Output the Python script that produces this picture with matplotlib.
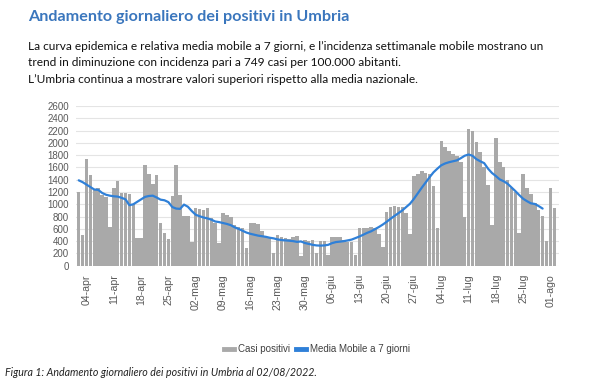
import numpy as np
import pandas as pd
import matplotlib
matplotlib.use("Agg")
import matplotlib.pyplot as plt
from matplotlib.lines import Line2D

# daily positive cases, Umbria, 02-apr-2022 .. 02-ago-2022
casi = [
    1200, 500, 1740, 1470, 1240, 1265, 1150, 1120, 625, 1260,
    1385, 1180, 1180, 1170, 1000, 446, 446, 1640, 1487, 1330,
    1477, 700, 527, 430, 1134, 1640, 1150, 810, 810, 380,
    945, 920, 910, 934, 780, 700, 364, 863, 825, 800,
    662, 635, 620, 293, 700, 690, 673, 560, 472, 445,
    212, 500, 470, 456, 430, 470, 489, 163, 418, 410,
    420, 200, 400, 400, 180, 470, 470, 472, 420, 390,
    390, 175, 608, 610, 620, 635, 610, 520, 310, 869,
    961, 977, 950, 950, 850, 510, 1460, 1500, 1548, 1515,
    1490, 1300, 619, 2030, 1938, 1868, 1813, 1790, 1694, 798,
    2220, 2200, 2020, 1857, 1600, 1314, 662, 2074, 1694, 1613,
    1395, 1260, 1205, 527, 1493, 1270, 1162, 1015, 900, 815,
    407, 1260, 945,
]

# 7-day moving average as drawn (stops three days before the last bar)
media_mobile = [
    1390, 1360, 1320, 1280, 1240, 1235, 1185, 1155, 1140, 1130,
    1125, 1105, 1080, 985, 1000, 1040, 1080, 1120, 1135, 1140,
    1110, 1075, 1065, 1035, 955, 930, 925, 995, 960, 890,
    830, 805, 785, 770, 750, 720, 710, 695, 680, 660,
    625, 600, 570, 540, 520, 505, 490, 480, 470, 455,
    445, 428, 418, 412, 407, 400, 388, 395, 370, 355,
    340, 330, 327, 330, 340, 368, 385, 392, 400, 412,
    425, 450, 475, 505, 535, 560, 595, 630, 670, 715,
    765, 810, 855, 900, 955, 1010, 1090, 1180, 1270, 1355,
    1440, 1520, 1580, 1635, 1665, 1685, 1700, 1715, 1750, 1790,
    1810, 1790, 1735, 1700, 1670, 1580, 1510, 1460, 1405, 1375,
    1335, 1275, 1215, 1150, 1090, 1050, 1015, 1005, 970, 930,
]

tick_labels = ["04-apr", "11-apr", "18-apr", "25-apr", "02-mag", "09-mag",
               "16-mag", "23-mag", "30-mag", "06-giu", "13-giu", "20-giu",
               "27-giu", "04-lug", "11-lug", "18-lug", "25-lug", "01-ago"]

giorni = pd.date_range("2022-04-02", periods=len(casi), freq="D")
tick_pos = [giorni.get_loc(pd.Timestamp("2022-04-04") + pd.Timedelta(days=7 * k))
            for k in range(len(tick_labels))]

BAR = "#a9a9a9"
BLUE = "#2f80d8"
GREY_TXT = "#595959"

fig = plt.figure(figsize=(6, 3.88), dpi=100)
ax = fig.add_axes([76 / 600, 1 - 265.7 / 388, (559 - 76) / 600, (265.7 - 106) / 388])

x = np.arange(len(casi))
ax.bar(x, casi, width=0.9, color=BAR, zorder=2)
ax.plot(np.arange(len(media_mobile)), media_mobile, color=BLUE, lw=1.6,
        solid_capstyle="round", zorder=3)

ax.set_xlim(-0.7, 123.2)
ax.set_ylim(0, 2600)
ax.set_yticks(range(0, 2601, 200))
ax.grid(axis="y", color="#e4e4e4", lw=0.8, zorder=0)
ax.set_axisbelow(True)
for s in ax.spines.values():
    s.set_visible(False)
ax.tick_params(axis="y", length=0, labelsize=7, labelcolor=GREY_TXT, pad=5)
ax.tick_params(axis="x", length=0, labelsize=7.6, labelcolor=GREY_TXT, pad=6)
ax.set_xticks(tick_pos)
ax.set_xticklabels(tick_labels, rotation=90, fontfamily="Liberation Sans")
for t in ax.get_yticklabels():
    t.set_fontfamily("Liberation Sans")

handles = [Line2D([], [], color=BAR, lw=3.5), Line2D([], [], color=BLUE, lw=3.5)]
fig.legend(handles, ["Casi positivi", "Media Mobile a 7 giorni"],
           loc="center", bbox_to_anchor=(317 / 600, 1 - 349 / 388), ncol=2,
           frameon=False, handlelength=1.0, handletextpad=0.45, columnspacing=0.6,
           prop={"family": "Liberation Sans", "size": 7}, labelcolor="#404040")

fig.text(28 / 600, 1 - 17 / 388, "Andamento giornaliero dei positivi in Umbria",
         color="#3a76bd", fontsize=11.6, fontweight="bold", family="Lato", va="center")
body = [
    "La curva epidemica e relativa media mobile a 7 giorni, e l\u2019incidenza settimanale mobile mostrano un",
    "trend in diminuzione con incidenza pari a 749 casi per 100.000 abitanti.",
    "L\u2019Umbria continua a mostrare valori superiori rispetto alla media nazionale.",
]
for k, line in enumerate(body):
    fig.text(28 / 600, 1 - (46 + 16.8 * k) / 388, line, color="#111111",
             fontsize=8.6, family="Lato", va="center")

fig.text(5 / 600, 1 - 372 / 388,
         "Figura 1: Andamento giornaliero dei positivi in Umbria al 02/08/2022.",
         fontsize=7.7, style="italic", family="Lato", color="#222222", va="center")

fig.savefig("out.png", dpi=100)
